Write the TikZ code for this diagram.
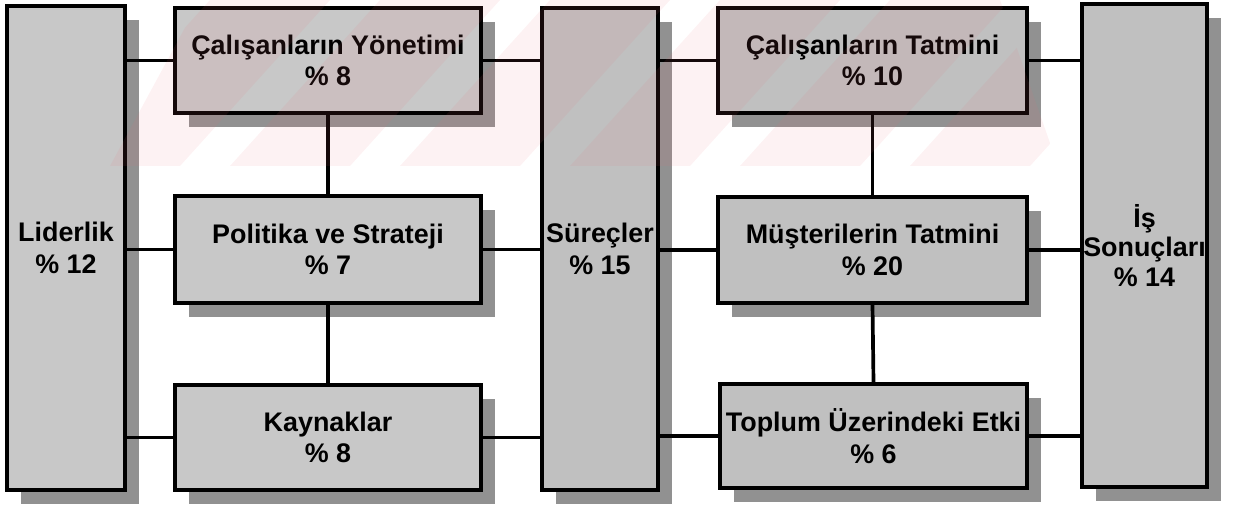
\documentclass[tikz,border=0pt]{standalone}
\usepackage{fontspec}
\setmainfont{Liberation Sans}
\usetikzlibrary{shadows}
\definecolor{boxgray}{RGB}{200,200,200}
\definecolor{boxgrayb}{RGB}{192,192,192}
\definecolor{shadowgray}{RGB}{145,145,145}
\definecolor{wmpink}{RGB}{235,110,120}
\begin{document}
\begin{tikzpicture}[x=0.02cm,y=-0.02cm,
  box/.style={draw=black, line width=2pt, fill=boxgray, align=center,
    font=\bfseries\fontsize{15.3}{18}\selectfont, inner sep=0pt,
    drop shadow={shadow xshift=0.28cm, shadow yshift=-0.28cm, fill=shadowgray, opacity=1}},
  darkbox/.style={box, fill=boxgrayb},
  link/.style={line width=2.1pt, draw=black}]
\useasboundingbox (0,0) rectangle (1239,506);
% boxes
\node[box, minimum width=2.36cm, minimum height=9.68cm] (lid) at (66,248) {Liderlik\\\% 12};
\node[box, minimum width=6.12cm, minimum height=2.10cm] (cy) at (328,60.5) {Çalışanların Yönetimi\\\% 8};
\node[box, minimum width=6.12cm, minimum height=2.14cm] (pol) at (328,249.5) {Politika ve Strateji\\\% 7};
\node[box, minimum width=6.12cm, minimum height=2.10cm] (kay) at (328,437.5) {Kaynaklar\\\% 8};
\node[darkbox, minimum width=2.32cm, minimum height=9.64cm] (sur) at (600,249) {Süreçler\\\% 15};
\node[darkbox, minimum width=6.18cm, minimum height=2.10cm] (ct) at (872.5,60.5) {Çalışanların Tatmini\\\% 10};
\node[darkbox, minimum width=6.18cm, minimum height=2.12cm] (mus) at (872.5,250) {Müşterilerin Tatmini\\\% 20};
\node[darkbox, minimum width=6.14cm, minimum height=2.08cm] (top) at (873.5,436) {Toplum Üzerindeki Etki\\\% 6};
\node[darkbox, minimum width=2.50cm, minimum height=9.66cm, font=\bfseries\fontsize{15.3}{17}\selectfont] (is) at (1144.5,245.5) {İş\\Sonuçları\\\% 14};
% connectors
\foreach \m in {cy,pol,kay} {
  \draw[link] (\m.west) -- (\m.west -| lid.east);
  \draw[link] (\m.east) -- (\m.east -| sur.west);
}
\foreach \m in {ct,mus,top} {
  \draw[link] (\m.west) -- (\m.west -| sur.east);
  \draw[link] (\m.east) -- (\m.east -| is.west);
}
\draw[link] (cy.south) -- (pol.north);
\draw[link] (pol.south) -- (kay.north);
\draw[link] (ct.south) -- (mus.north);
\draw[link] (mus.south) -- (top.north);
% faint watermark
\begin{scope}
  \clip (110,166) -- (1058,166) -- (1000,0) -- (200,0) -- cycle;
  \foreach \b in {60,230,400,570,740,910} {
    \fill[wmpink, opacity=0.09] (\b,166) -- (\b+120,166) -- (\b+270,0) -- (\b+150,0) -- cycle;
  }
\end{scope}
\end{tikzpicture}
\end{document}
